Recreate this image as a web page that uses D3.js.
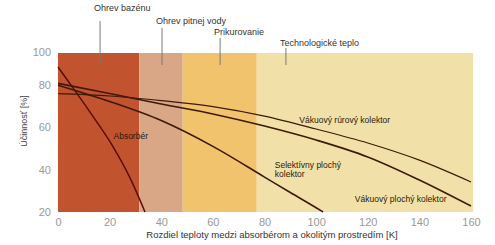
<!DOCTYPE html>
<html>
<head>
<meta charset="utf-8">
<script src="https://cdn.jsdelivr.net/npm/d3@7"></script>
<style>
  body { margin: 0; background: #fff; }
  text { font-family: "Liberation Sans", Arial, sans-serif; }
</style>
</head>
<body>
<div id="chart"></div>
<script>
// temperature zones (x edges, K)
const zoneEdges = [0, 31.5, 48.3, 77, 160.8];
const zoneNames = ["Ohrev bazénu", "Ohrev pitnej vody", "Prikurovanie", "Technologické teplo"];
const zoneMarkX = [16.3, 40.3, 62.8, 88.3];

// tick labels
const xTicks = [0, 20, 40, 60, 80, 100, 120, 140, 160];
const yTicks = [20, 40, 60, 80, 100];

// collector curves
const absorberX = [0, 5, 12.4, 20.9, 27.9, 33.7];
const absorberY = [90.9, 80, 67.2, 51.7, 36.1, 20];
const selektivnyX = [0, 20, 40, 60, 80, 90, 100, 102.7];
const selektivnyY = [79.9, 72.2, 63.2, 51.0, 36.5, 29.2, 22.0, 20];
const vakPlochyX = [0, 20, 40, 60, 80, 100, 120, 140, 160];
const vakPlochyY = [81.0, 76.0, 71.0, 66.3, 60.6, 54.0, 46.0, 35.1, 22.8];
const vakRurovyX = [0, 20, 40, 60, 80, 100, 120, 140, 160];
const vakRurovyY = [75.9, 74.8, 72.6, 69.8, 65.3, 59.2, 52.6, 44.5, 34.2];

const width = 495, height = 245;
const zoneColors = ["#c1542f", "#d9a686", "#f2c36d", "#f1e0a8"];

const x = d3.scaleLinear().domain([0, 160]).range([58, 471]);
// the original axis is squeezed above 80
const y = d3.scaleLinear().domain([20, 80, 100]).range([212, 85, 52]);

const svg = d3.select("#chart").append("svg")
    .attr("width", width)
    .attr("height", height);

// zone backgrounds
svg.selectAll(".zone")
    .data(zoneColors)
    .enter().append("rect")
    .attr("class", "zone")
    .attr("x", (d, i) => x(zoneEdges[i]))
    .attr("width", (d, i) => x(zoneEdges[i + 1]) - x(zoneEdges[i]))
    .attr("y", y(100) + 1)
    .attr("height", y(20) - y(100) - 1)
    .style("fill", d => d);

// zone labels with marker lines
const labelTop = [11, 24, 35, 46];
const lineTop = [21, 28, 38, 48];
const marks = svg.selectAll(".mark")
    .data(zoneNames)
    .enter().append("g")
    .attr("class", "mark");
marks.append("line")
    .attr("x1", (d, i) => x(zoneMarkX[i]))
    .attr("x2", (d, i) => x(zoneMarkX[i]))
    .attr("y1", (d, i) => lineTop[i])
    .attr("y2", 65)
    .style("stroke", "#7a7a7a")
    .style("stroke-width", 1);
marks.append("text")
    .attr("x", (d, i) => x(zoneMarkX[i]) - 6)
    .attr("y", (d, i) => labelTop[i])
    .style("font-size", "9px")
    .style("fill", "#333")
    .text(d => d);

// x-axis
const xAxis = svg.append("g")
    .attr("transform", `translate(0, ${y(20)})`)
    .call(d3.axisBottom(x).tickValues(xTicks).tickSize(0).tickPadding(6));
xAxis.select(".domain").remove();
xAxis.selectAll("text")
    .style("font-size", "11px")
    .style("fill", "#999")
    .style("font-family", "\"Liberation Sans\", Arial, sans-serif");

// y-axis
const yAxis = svg.append("g")
    .attr("transform", `translate(58, 0)`)
    .call(d3.axisLeft(y).tickValues(yTicks).tickSize(0).tickPadding(7));
yAxis.select(".domain").remove();
yAxis.selectAll("text")
    .style("font-size", "11px")
    .style("fill", "#999")
    .style("font-family", "\"Liberation Sans\", Arial, sans-serif");

// axis titles
svg.append("text")
    .attr("x", 272)
    .attr("y", 238)
    .style("text-anchor", "middle")
    .style("font-size", "9.5px")
    .style("fill", "#333")
    .text("Rozdiel teploty medzi absorbérom a okolitým prostredím [K]");

svg.append("text")
    .attr("transform", "translate(27, 121) rotate(-90)")
    .style("text-anchor", "middle")
    .style("font-size", "9px")
    .style("fill", "#444")
    .text("Účinnosť [%]");

// curves
const line = d3.line()
    .x(d => x(d[0]))
    .y(d => y(d[1]))
    .curve(d3.curveMonotoneX);

const curves = [
    { xs: absorberX, ys: absorberY, color: "#5a0c08", w: 1.5 },
    { xs: selektivnyX, ys: selektivnyY, color: "#3d1a08", w: 1.6 },
    { xs: vakPlochyX, ys: vakPlochyY, color: "#3d1a08", w: 1.6 },
    { xs: vakRurovyX, ys: vakRurovyY, color: "#3d1a08", w: 1.2 }
];

svg.selectAll(".curve")
    .data(curves)
    .enter().append("path")
    .attr("class", "curve")
    .attr("d", c => line(d3.zip(c.xs, c.ys)))
    .style("fill", "none")
    .style("stroke", c => c.color)
    .style("stroke-width", c => c.w);

// curve labels
const curveLabels = [
    { t: "Absorbér", x: 21.5, y: 139 },
    { t: "Vákuový rúrový kolektor", x: 93.5, y: 123 },
    { t: "Selektívny plochý", x: 84, y: 168 },
    { t: "kolektor", x: 84, y: 177 },
    { t: "Vákuový plochý kolektor", x: 115, y: 202 }
];
svg.selectAll(".clabel")
    .data(curveLabels)
    .enter().append("text")
    .attr("class", "clabel")
    .attr("x", d => x(d.x))
    .attr("y", d => d.y)
    .style("font-size", "8.5px")
    .style("fill", "#2a1a0a")
    .text(d => d.t);
</script>
</body>
</html>
